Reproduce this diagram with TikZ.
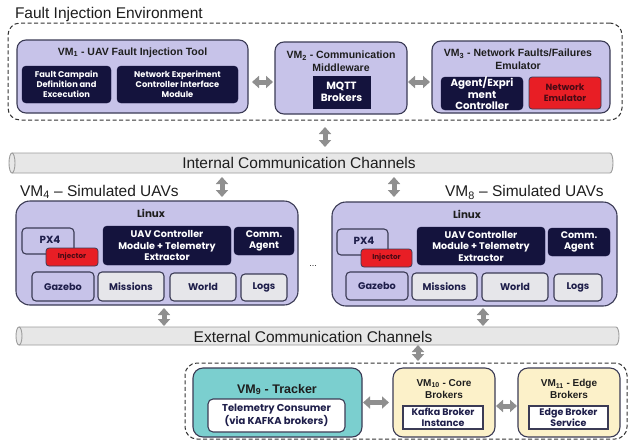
\documentclass[tikz,border=0pt]{standalone}
\usepackage{fontspec}
\setmainfont{Liberation Sans}
\newfontfamily\boxfont{Poppins}
\usetikzlibrary{arrows.meta}

\definecolor{lav}{HTML}{C7C3E9}
\definecolor{edge}{HTML}{3B3B55}
\definecolor{navy}{HTML}{14133D}
\definecolor{alarm}{HTML}{E81E25}
\definecolor{alarmtext}{HTML}{4A0A14}
\definecolor{paleg}{HTML}{E6E6EA}
\definecolor{teal}{HTML}{7BCFCF}
\definecolor{cream}{HTML}{FCF1C9}
\definecolor{arrowgray}{HTML}{8F8F8F}
\definecolor{chanfill}{HTML}{E7E7E7}
\definecolor{chanedge}{HTML}{9C9C9C}
\definecolor{titlecol}{HTML}{1E1E1E}
\definecolor{boxtext}{HTML}{1E1E4A}

\newcommand{\fsz}[2]{\fontsize{#1}{#2}\selectfont}

\tikzset{
  every node/.style={inner sep=0pt, outer sep=0pt},
  heading/.style={font=\fsz{15.5}{18}, text=titlecol},
  group/.style={draw=black!80, dashed, dash pattern=on 4pt off 2.5pt, line width=1pt, rounded corners=12pt},
  vmbox/.style={draw=edge, line width=1.1pt, fill=lav, rounded corners=9pt},
  vmtitle/.style={font=\bfseries\fsz{10.5}{13}, text=titlecol, align=center},
  navybox/.style={fill=navy, draw=navy, rounded corners=4pt, text=white, align=center, font=\boxfont\bfseries\fsz{8.3}{10}},
  alarmbox/.style={fill=alarm, draw=edge, line width=0.8pt, rounded corners=3pt, text=alarmtext, align=center, font=\boxfont\bfseries\fsz{9}{11}},
  lavsmall/.style={fill=lav, draw=edge, line width=1.1pt, rounded corners=4pt, text=boxtext, align=center, font=\boxfont\bfseries\fsz{9.7}{11}},
  palesmall/.style={lavsmall, fill=paleg},
  uavnavy/.style={navybox, font=\boxfont\bfseries\fsz{9.6}{11.5}},
  whitebox/.style={fill=white, draw=edge, line width=1.1pt, align=center, text=boxtext, font=\boxfont\bfseries\fsz{10}{11.5}},
  fat/.style={draw=arrowgray, line width=5pt, {Triangle[width=12pt,length=7pt]}-{Triangle[width=12pt,length=7pt]}},
}

\begin{document}
\begin{tikzpicture}[x=1pt,y=-1pt]
\useasboundingbox[fill=white] (0,0) rectangle (632,440);

% ---------- Fault injection environment ----------
\node[heading, anchor=base west] (fietitle) at (15,18.5) {Fault Injection Environment};
\node[group, minimum width=614, minimum height=97] (fie) at (315,71.5) {};

\node[vmbox, minimum width=231, minimum height=73] (vm1) at (132.5,76.5) {};
\node[vmtitle, anchor=base] (vm1t) at (132.5,55) {VM\textsubscript{1} - UAV Fault Injection Tool};
\node[navybox, minimum width=89, minimum height=37] (campaign) at (66.5,84.5) {Fault Campain\\Definition and\\Excecution};
\node[navybox, minimum width=121, minimum height=37] (netexp) at (177.5,84.5) {Network Experiment\\Controller Interface\\Module};

\node[vmbox, minimum width=132, minimum height=72] (vm2) at (341,78) {};
\node[vmtitle] (vm2t) at (341,61.5) {VM\textsubscript{2} - Communication\\Middleware};
\node[navybox, rounded corners=0pt, minimum width=57, minimum height=32, font=\boxfont\bfseries\fsz{10.5}{12}] (mqtt) at (341.5,92) {MQTT\\Brokers};

\node[vmbox, minimum width=178, minimum height=72] (vm3) at (521,77) {};
\node[vmtitle] (vm3t) at (518,59.5) {VM\textsubscript{3} - Network Faults/Failures\\Emulator};
\node[navybox, minimum width=82, minimum height=33, font=\boxfont\bfseries\fsz{10.3}{11.5}] (agent) at (482,93.5) {Agent/Expri\\ment\\Controller};
\node[alarmbox, minimum width=72, minimum height=32] (netemu) at (565,93) {Network\\Emulator};

\draw[fat, shorten <=4pt, shorten >=2pt] ([yshift=-5.5pt]vm1.east) -- ([yshift=-4pt]vm2.west);
\draw[fat, shorten <=1pt, shorten >=2pt] ([yshift=-4pt]vm2.east) -- ([yshift=-5pt]vm3.west);

% ---------- Internal channel ----------
\node[minimum width=604, minimum height=20] (intc) at (311,163) {};
\fill[chanfill] (12,153) -- (610,153) arc[start angle=-90,end angle=90,x radius=3,y radius=10]
  -- (12,173) arc[start angle=90,end angle=270,x radius=3,y radius=10] -- cycle;
\draw[chanedge, line width=0.9pt] (12,153) -- (610,153) arc[start angle=-90,end angle=90,x radius=3,y radius=10]
  -- (12,173);
\draw[chanedge, line width=0.9pt] (12,163) ellipse[x radius=3, y radius=10];
\node[heading, anchor=base] (intct) at (299,168.5) {Internal Communication Channels};

\draw[fat, shorten <=7pt, shorten >=6pt] ([xshift=10pt]fie.south) -- ([xshift=14pt]intc.north);

% ---------- Simulated UAVs ----------
\node[heading, anchor=base west] (vm4t) at (20,196) {VM\textsubscript{4} -- Simulated UAVs};
\node[heading, anchor=base west] (vm8t) at (445,196.5) {VM\textsubscript{8} -- Simulated UAVs};

% VM4
\node[vmbox, rounded corners=14pt, minimum width=282, minimum height=104] (vm4) at (157,253) {};
\node[font=\boxfont\bfseries\fsz{10.3}{12}, text=titlecol, anchor=base] (linuxa) at (151,217) {Linux};
\node[lavsmall, minimum width=52, minimum height=26] (px4a) at (48,241) {};
\node[font=\boxfont\bfseries\fsz{10.3}{11}, text=boxtext] (px4at) at (50,240) {PX4};
\node[alarmbox, minimum width=52, minimum height=18, font=\boxfont\bfseries\fsz{7.2}{8}] (inja) at (72,257) {Injector};
\node[uavnavy, minimum width=128, minimum height=39] (ctrla) at (167,245.5) {UAV Controller\\Module + Telemetry\\Extractor};
\node[uavnavy, minimum width=60, minimum height=28] (comma) at (264,241) {Comm.\\Agent};
\node[lavsmall, minimum width=62, minimum height=29] (gazeboa) at (63,286.5) {Gazebo};
\node[palesmall, minimum width=66, minimum height=29] (missionsa) at (131,286.5) {Missions};
\node[palesmall, minimum width=66, minimum height=28] (worlda) at (203,287) {World};
\node[palesmall, minimum width=46, minimum height=27] (logsa) at (264,287.5) {Logs};

% VM8
\node[vmbox, rounded corners=14pt, minimum width=285, minimum height=104] (vm8) at (474.5,254) {};
\node[font=\boxfont\bfseries\fsz{10.3}{12}, text=titlecol, anchor=base] (linuxb) at (467,218) {Linux};
\node[lavsmall, minimum width=51, minimum height=26] (px4b) at (362.5,242) {};
\node[font=\boxfont\bfseries\fsz{10.3}{11}, text=boxtext] (px4bt) at (364,241) {PX4};
\node[alarmbox, minimum width=51, minimum height=18, font=\boxfont\bfseries\fsz{7.2}{8}] (injb) at (386.5,258) {Injector};
\node[uavnavy, minimum width=128, minimum height=38] (ctrlb) at (481,246) {UAV Controller\\Module + Telemetry\\Extractor};
\node[uavnavy, minimum width=62, minimum height=28] (commb) at (579,242) {Comm.\\Agent};
\node[lavsmall, minimum width=62, minimum height=28] (gazebob) at (377,286) {Gazebo};
\node[palesmall, minimum width=65, minimum height=27] (missionsb) at (444.5,286.5) {Missions};
\node[palesmall, minimum width=66, minimum height=28] (worldb) at (515,287) {World};
\node[palesmall, minimum width=48, minimum height=27] (logsb) at (578,287.5) {Logs};

\node[font=\fsz{9}{10}, text=titlecol] (dots) at (313,266) {...};

\draw[fat, shorten <=4pt, shorten >=4pt] ([xshift=-89pt]intc.south) -- ([xshift=65pt]vm4.north);
\draw[fat, shorten <=4pt, shorten >=5pt] ([xshift=83pt]intc.south) -- ([xshift=-80.5pt]vm8.north);

% ---------- External channel ----------
\node[minimum width=603, minimum height=18] (extc) at (317.5,336) {};
\fill[chanfill] (19,327) -- (616,327) arc[start angle=-90,end angle=90,x radius=3,y radius=9]
  -- (19,345) arc[start angle=90,end angle=270,x radius=3,y radius=9] -- cycle;
\draw[chanedge, line width=0.9pt] (19,327) -- (616,327) arc[start angle=-90,end angle=90,x radius=3,y radius=9]
  -- (19,345);
\draw[chanedge, line width=0.9pt] (19,336) ellipse[x radius=3, y radius=9];
\node[heading, anchor=base] (extct) at (313,342) {External Communication Channels};

\draw[fat, shorten <=3pt, shorten >=1pt] ([xshift=7pt]vm4.south) -- ([xshift=-153.5pt]extc.north);
\draw[fat, shorten <=2pt, shorten >=1pt] ([xshift=8.5pt]vm8.south) -- ([xshift=165.5pt]extc.north);

% ---------- Tracker and brokers ----------
\node[group, minimum width=442, minimum height=76] (brokers) at (406,401) {};
\draw[fat, shorten <=0pt, shorten >=2pt] ([xshift=100.5pt]extc.south) -- ([xshift=12pt]brokers.north);

\node[vmbox, fill=teal, rounded corners=10pt, minimum width=169, minimum height=69] (vm9) at (277.5,402.5) {};
\node[vmtitle, font=\bfseries\fsz{12.5}{14}, anchor=base] (vm9t) at (277,393) {VM\textsubscript{9} - Tracker};
\node[whitebox, rounded corners=5pt, minimum width=137, minimum height=33] (consumer) at (276.5,415.5) {Telemetry Consumer\\(via KAFKA brokers)};

\node[vmbox, fill=cream, rounded corners=10pt, minimum width=102, minimum height=69] (vm10) at (444,402.5) {};
\node[vmtitle, font=\bfseries\fsz{10}{12}] (vm10t) at (444,389) {VM\textsubscript{10} - Core\\Brokers};
\node[whitebox, line width=1.4pt, minimum width=80, minimum height=23, font=\boxfont\bfseries\fsz{9.5}{10.5}] (kafka) at (443,417.5) {Kafka Broker\\Instance};

\node[vmbox, fill=cream, rounded corners=10pt, minimum width=102, minimum height=69] (vm11) at (569,402.5) {};
\node[vmtitle, font=\bfseries\fsz{10}{12}] (vm11t) at (569,389) {VM\textsubscript{11} - Edge\\Brokers};
\node[whitebox, line width=1.4pt, minimum width=79, minimum height=23, font=\boxfont\bfseries\fsz{9.5}{10.5}] (edgeb) at (568.5,417.5) {Edge Broker\\Service};

\draw[fat, shorten <=1pt, shorten >=4pt] (vm9.east) -- (vm10.west);
\draw[fat, shorten <=1pt, shorten >=1pt] ([yshift=-3.5pt]vm10.east) -- ([yshift=-3.5pt]vm11.west);
\end{tikzpicture}
\end{document}
